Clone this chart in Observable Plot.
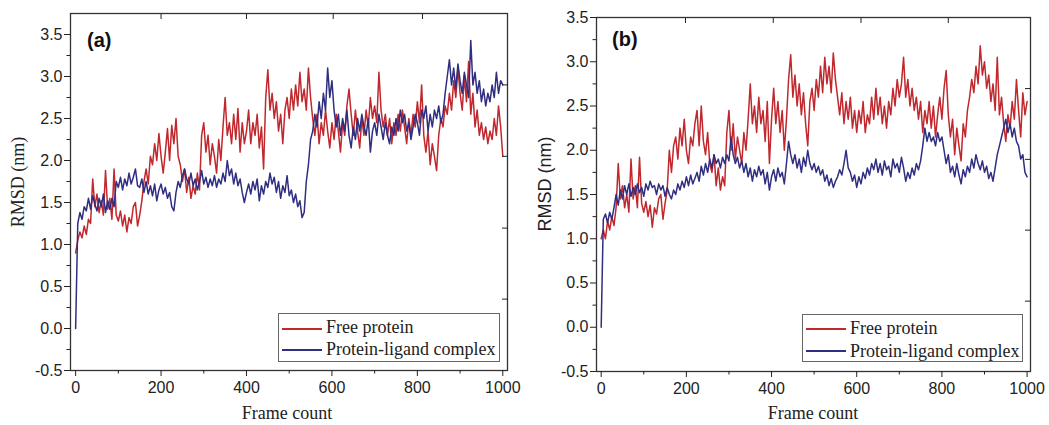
<!DOCTYPE html>
<html><head><meta charset="utf-8">
<script src="https://cdn.jsdelivr.net/npm/d3@7"></script>
<script src="https://cdn.jsdelivr.net/npm/@observablehq/plot@0.6"></script>
<style>
body{margin:0;background:#fff;}
#wrap{position:relative;width:1049px;height:425px;overflow:hidden;background:#fff;}
#wrap svg{position:absolute;top:0;}
.lbl{position:absolute;white-space:nowrap;color:#222;line-height:18px;}
.serif{font-family:"Liberation Serif","Times New Roman",serif;font-size:18px;}
.sans{font-family:"Liberation Sans",Arial,sans-serif;font-size:18px;}
.tag{position:absolute;font-family:"Liberation Sans",Arial,sans-serif;font-weight:bold;font-size:20px;line-height:20px;color:#111;}
.legend{position:absolute;border:1px solid #666;background:#fff;box-sizing:border-box;}
.legend .sw{position:absolute;height:1.5px;width:40px;left:3px;}
.legend .tx{position:absolute;left:47px;font-family:"Liberation Serif","Times New Roman",serif;font-size:18px;line-height:18px;color:#222;white-space:nowrap;}
</style></head>
<body><div id="wrap"></div>
<script>
const seriesNames = ["Free protein", "Protein-ligand complex"];
const seriesColors = ["#c0282d", "#302e80"];
const frameStep = 5;

const freeA = [
0.9,1.05,1.15,1.08,1.22,1.12,1.3,1.25,1.78,1.45,1.6,1.38,1.52,1.35,1.88,1.42,1.55,1.3,1.9,1.35,
1.28,1.4,1.22,1.35,1.15,1.32,1.25,1.45,1.5,1.22,1.35,1.52,1.75,1.9,1.72,2.05,1.95,2.2,2.0,2.32,
2.05,1.85,2.1,2.38,2.0,2.42,2.2,2.5,2.05,1.95,1.75,1.9,1.62,1.8,1.55,1.7,1.6,1.85,1.65,2.3,
2.45,2.1,2.3,1.95,2.2,2.05,1.85,2.25,2.0,2.4,2.75,2.3,2.45,2.2,2.55,2.25,2.62,2.1,2.45,2.2,
2.35,2.6,2.2,2.45,2.3,2.55,2.15,2.4,1.9,2.75,3.08,2.6,2.8,2.5,2.7,2.35,2.55,2.2,2.6,2.75,
2.5,2.85,2.6,2.9,2.65,3.05,2.7,2.85,2.6,3.1,2.75,2.5,2.3,2.55,2.2,2.45,2.3,2.6,2.35,2.15,
2.45,2.25,2.55,2.35,2.1,2.45,2.3,2.65,2.85,2.55,2.3,2.6,2.35,2.15,2.5,2.3,2.6,2.4,2.75,2.5,
2.65,2.45,3.05,2.6,2.4,2.55,2.3,2.5,2.2,2.45,2.3,2.55,2.35,2.6,2.4,2.2,2.5,2.3,2.55,2.4,
2.7,2.45,2.9,2.3,2.1,2.35,1.95,2.2,2.05,1.88,2.3,2.5,2.4,2.65,2.55,2.8,2.6,2.95,2.75,3.1,
2.8,2.6,3.0,2.7,3.18,2.55,2.8,2.4,2.6,2.3,2.45,2.25,2.4,2.2,2.35,2.25,2.5,2.3,2.65,2.4,
2.05];
const complexA = [
0.0,1.25,1.38,1.3,1.45,1.4,1.55,1.42,1.58,1.48,1.4,1.55,1.45,1.6,1.38,1.52,1.42,1.55,1.45,1.75,
1.68,1.8,1.65,1.78,1.7,1.85,1.72,1.8,1.9,1.7,1.68,1.78,1.62,1.75,1.6,1.7,1.58,1.72,1.52,1.65,
1.72,1.6,1.68,1.55,1.62,1.45,1.4,1.62,1.75,1.68,1.82,1.9,1.78,1.72,1.85,1.7,1.78,1.65,1.75,1.88,
1.72,1.8,1.68,1.78,1.7,1.82,1.68,1.78,1.72,1.85,1.75,2.0,1.82,1.9,1.72,1.85,1.7,1.78,1.62,1.5,
1.62,1.72,1.6,1.75,1.65,1.78,1.52,1.7,1.6,1.75,1.68,1.85,1.72,1.8,1.62,1.75,1.55,1.7,1.62,1.82,
1.58,1.65,1.5,1.6,1.45,1.52,1.32,1.38,1.75,1.95,2.25,2.35,2.55,2.4,2.7,2.5,2.8,2.6,3.1,2.75,
2.95,2.6,2.4,2.55,2.3,2.5,2.35,2.6,2.3,2.15,2.4,2.25,2.5,2.35,2.55,2.4,2.3,2.5,2.1,2.35,
2.45,2.3,2.55,2.4,2.25,2.45,2.3,2.2,2.4,2.3,2.5,2.35,2.6,2.45,2.55,2.35,2.45,2.25,2.4,2.55,
2.45,2.3,2.6,2.5,2.65,2.35,2.55,2.4,2.6,2.5,2.65,2.45,2.55,2.8,3.0,3.2,2.9,3.1,2.85,3.15,
2.95,2.8,3.05,2.9,2.75,3.43,2.9,3.05,2.8,2.95,2.7,2.85,2.65,2.8,2.7,2.9,2.75,3.05,2.8,2.95,
2.9];
const freeB = [
1.0,1.1,1.0,1.2,1.1,1.25,1.15,1.35,1.85,1.45,1.6,1.35,1.5,1.3,1.9,1.45,1.6,1.35,1.92,1.4,
1.3,1.42,1.25,1.38,1.13,1.35,1.28,1.45,1.5,1.22,1.4,1.55,2.0,1.75,2.05,2.15,1.9,2.25,2.05,2.35,
2.0,1.85,2.15,2.05,2.3,2.45,2.05,2.5,2.1,1.95,2.2,1.85,1.75,1.95,1.6,1.8,1.55,1.7,1.6,2.2,
2.45,2.0,2.3,1.9,2.15,2.0,1.85,2.2,2.0,2.35,2.75,2.3,2.5,2.2,2.6,2.3,2.45,2.1,2.55,1.85,
2.35,2.7,2.3,2.55,2.2,2.45,2.0,2.35,2.8,3.08,2.6,2.85,2.5,2.75,2.4,2.65,2.3,2.05,2.55,2.7,
2.45,2.8,2.6,2.95,2.65,3.05,2.75,2.95,2.65,3.1,2.8,2.6,2.4,2.65,2.3,2.55,2.35,2.6,2.25,2.45,
2.2,2.45,2.3,2.55,2.2,2.4,2.3,2.6,2.35,2.7,2.4,2.6,2.3,2.5,2.25,2.55,2.4,2.7,2.5,2.8,
2.6,2.75,3.05,2.6,2.8,2.5,2.7,2.45,2.6,2.35,2.55,2.2,2.45,2.3,2.55,2.25,2.5,2.15,2.4,2.6,
2.35,2.7,2.9,2.4,2.15,2.35,1.95,2.25,2.05,1.88,2.3,2.15,2.45,2.6,2.8,2.65,2.95,2.75,3.18,2.85,
3.0,2.7,2.85,2.55,2.75,2.45,3.05,2.4,2.6,2.3,2.1,2.4,2.25,2.55,2.35,2.8,2.45,2.15,2.65,2.4,
2.55];
const complexB = [
0.0,1.22,1.28,1.18,1.3,1.22,1.35,1.5,1.38,1.55,1.45,1.6,1.5,1.62,1.48,1.58,1.5,1.62,1.52,1.58,
1.48,1.62,1.55,1.65,1.58,1.6,1.5,1.62,1.55,1.6,1.48,1.58,1.5,1.45,1.55,1.5,1.62,1.55,1.65,1.58,
1.7,1.6,1.72,1.62,1.68,1.75,1.65,1.82,1.72,1.85,1.75,1.9,1.8,1.95,1.85,1.9,1.8,1.92,1.85,1.95,
1.88,2.15,1.95,1.85,1.92,1.8,1.88,1.75,1.85,1.7,1.8,1.65,1.78,1.7,1.82,1.72,1.78,1.62,1.75,1.55,
1.7,1.78,1.65,1.8,1.7,1.75,1.62,1.85,2.1,1.95,1.85,1.95,1.8,1.9,1.75,1.92,1.82,2.0,1.85,1.78,
1.85,1.75,1.82,1.72,1.78,1.65,1.72,1.6,1.68,1.58,1.65,1.7,1.78,1.72,1.85,2.0,1.8,1.75,1.65,1.72,
1.58,1.7,1.62,1.75,1.68,1.8,1.72,1.85,1.78,1.9,1.75,1.85,1.72,1.88,1.78,1.82,1.7,1.9,1.8,1.85,
1.75,1.92,1.8,1.65,1.75,1.68,1.8,1.72,1.85,1.78,1.88,2.05,2.25,2.1,2.2,2.1,2.15,2.05,2.2,2.1,
2.15,2.0,1.85,1.95,1.75,1.82,1.7,1.85,1.72,1.62,1.78,1.7,1.82,1.75,1.9,1.8,1.95,1.85,1.78,1.88,
1.75,1.82,1.68,1.75,1.65,1.8,1.95,2.05,2.15,2.25,2.35,2.2,2.3,2.15,2.25,2.1,2.05,1.9,1.95,1.75,
1.7];

const yMajor = [-0.5,0,0.5,1,1.5,2,2.5,3,3.5];
const yMinor = [-0.25,0.25,0.75,1.25,1.75,2.25,2.75,3.25];
const xMajor = [0,200,400,600,800,1000];
const xMinor = [100,300,500,700,900];
const topTicksA = [200,400,603,812];
const topTicksB = [198,404,610,815];
const rightTicksA = [0.35,1.195,2.05,2.9];
const rightTicksB = [0.295,1.097,1.897,2.697];
const panelTags = ["(a)", "(b)"];
const xTitle = "Frame count";
const yTitle = "RMSD (nm)";

const wrap = document.getElementById("wrap");

function makePanel(free, complex, opts) {
  const data = [];
  free.forEach((v, i) => data.push({f: i * frameStep, v, s: seriesNames[0]}));
  complex.forEach((v, i) => data.push({f: i * frameStep, v, s: seriesNames[1]}));
  const none = () => "";
  const svg = Plot.plot({
    width: 525, height: 425,
    marginLeft: opts.ml, marginRight: opts.mr, marginTop: opts.mt, marginBottom: opts.mb,
    x: {domain: opts.xDomain},
    y: {domain: opts.yDomain},
    color: {domain: seriesNames, range: seriesColors},
    style: {fontFamily: "'Liberation Sans', Arial, sans-serif", fontSize: "16px", color: "#222", background: "transparent", overflow: "visible"},
    marks: [
      Plot.line(data, {x: "f", y: "v", z: "s", stroke: "s", strokeWidth: 1.5}),
      Plot.frame({stroke: "#333", strokeWidth: 1.3}),
      Plot.axisY(yMajor, {anchor: "left", tickSize: 6, tickPadding: 2, tickFormat: d => d.toFixed(1), label: null}),
      Plot.axisY(yMinor, {anchor: "left", tickSize: 3.5, tickFormat: none, label: null}),
      Plot.axisY(opts.rightTicks, {anchor: "right", tickSize: 6, insetRight: 6, tickFormat: none, label: null}),
      Plot.axisX(xMajor, {anchor: "bottom", tickSize: 6, tickPadding: 5, tickFormat: d => String(d), label: null}),
      Plot.axisX(xMinor, {anchor: "bottom", tickSize: 3.5, tickFormat: none, label: null}),
      Plot.axisX(opts.topTicks, {anchor: "top", tickSize: 5, insetTop: 5, tickFormat: none, label: null})
    ]
  });
  svg.style.left = opts.left + "px";
  wrap.appendChild(svg);
}

makePanel(freeA, complexA, {left: 0, ml: 70, mr: 18, mt: 13, mb: 55, xDomain: [-12, 1011], yDomain: [-0.5, 3.75], rightTicks: rightTicksA, topTicks: topTicksA});
makePanel(freeB, complexB, {left: 524, ml: 72, mr: 19, mt: 17, mb: 54, xDomain: [-11, 1008], yDomain: [-0.5, 3.5], rightTicks: rightTicksB, topTicks: topTicksB});

function addDiv(cls, text, css) {
  const d = document.createElement("div");
  d.className = cls;
  d.textContent = text;
  Object.assign(d.style, css);
  wrap.appendChild(d);
  return d;
}
addDiv("tag", panelTags[0], {left: "87px", top: "30px"});
addDiv("tag", panelTags[1], {left: "612px", top: "29px"});
addDiv("lbl serif", yTitle, {left: "18px", top: "182px", transform: "translate(-50%,-50%) rotate(-90deg)"});
addDiv("lbl sans", yTitle, {left: "545px", top: "184px", transform: "translate(-50%,-50%) rotate(-90deg)"});
addDiv("lbl serif", xTitle, {left: "287px", top: "404px", transform: "translateX(-50%)"});
addDiv("lbl serif", xTitle, {left: "813px", top: "404px", transform: "translateX(-50%)"});

function addLegend(left, top, w, h, rows) {
  const box = document.createElement("div");
  box.className = "legend";
  Object.assign(box.style, {left: left + "px", top: top + "px", width: w + "px", height: h + "px"});
  seriesNames.forEach((name, i) => {
    const sw = document.createElement("div");
    sw.className = "sw";
    sw.style.background = seriesColors[i];
    sw.style.top = rows[i].line + "px";
    box.appendChild(sw);
    const tx = document.createElement("div");
    tx.className = "tx";
    tx.textContent = name;
    tx.style.top = rows[i].text + "px";
    box.appendChild(tx);
  });
  wrap.appendChild(box);
}
addLegend(278, 313, 222, 49, [{line: 14, text: 4}, {line: 35, text: 26}]);
addLegend(802, 314, 221, 48, [{line: 13, text: 4}, {line: 35, text: 27}]);
</script>
</body></html>
